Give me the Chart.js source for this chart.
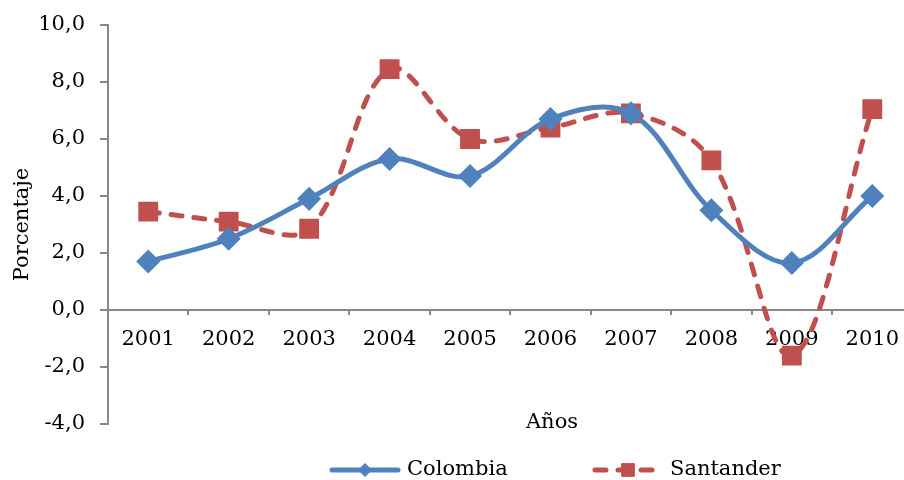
<!DOCTYPE html>
<html>
<head>
<meta charset="utf-8">
<script src="https://cdn.jsdelivr.net/npm/chart.js@4/dist/chart.umd.min.js"></script>
<style>
  html, body { margin: 0; padding: 0; background: #fff; overflow: hidden; }
  #wrap { width: 904px; height: 480px; overflow: hidden; position: relative; }
  #lienzo { width: 928px; height: 480px; position: absolute; left: 0; top: 0; }
</style>
</head>
<body>
<div id="wrap">
  <div id="lienzo"><canvas id="grafico"></canvas></div>
</div>
<script>
// datos (variación porcentual)
const anios = ['2001', '2002', '2003', '2004', '2005', '2006', '2007', '2008', '2009', '2010'];
const colombia = [1.7, 2.5, 3.9, 5.3, 4.7, 6.7, 6.9, 3.5, 1.65, 4.0];
const santander = [3.45, 3.1, 2.85, 8.45, 6.0, 6.4, 6.9, 5.25, -1.6, 7.05];
const yMin = -4, yMax = 10, yPaso = 2;

const fuente = 'DejaVu Serif';
const gris = '#888888';
const azul = '#4F81BD';
const rojo = '#C0504D';

// leyenda y título del eje X dibujados a mano (estilo Excel)
const leyendaX = [330, 593];
const leyendaRadio = [6.5, 9];
const extras = {
    id: 'extras',
    afterDraw(chart) {
        const ctx = chart.ctx;
        ctx.save();
        ctx.font = '21px "' + fuente + '"';
        ctx.fillStyle = '#000';
        ctx.textAlign = 'center';
        ctx.textBaseline = 'middle';
        ctx.fillText('Años', 552, 423);

        const y = 470;
        chart.data.datasets.forEach((ds, i) => {
            const x = leyendaX[i];
            ctx.save();
            ctx.strokeStyle = ds.borderColor;
            ctx.lineWidth = ds.borderWidth;
            ctx.lineCap = 'round';
            ctx.setLineDash(ds.borderDash || []);
            ctx.beginPath();
            ctx.moveTo(x + 2, y);
            ctx.lineTo(x + 68, y);
            ctx.stroke();
            ctx.restore();
            ctx.fillStyle = ds.pointBackgroundColor;
            ctx.strokeStyle = ds.pointBorderColor;
            ctx.lineWidth = 1;
            Chart.helpers.drawPoint(ctx, { pointStyle: ds.pointStyle, radius: leyendaRadio[i], borderWidth: 1 }, x + 35, y);
            ctx.fillStyle = '#000';
            ctx.textAlign = 'left';
            ctx.fillText(ds.label, x + 77, y);
        });
        ctx.restore();
    }
};

document.addEventListener('DOMContentLoaded', () => {
    const ctx = document.getElementById('grafico').getContext('2d');
    new Chart(ctx, {
        type: 'line',
        data: {
            labels: anios,
            datasets: [{
                label: 'Colombia',
                data: colombia,
                borderColor: azul,
                borderWidth: 5,
                pointStyle: 'rectRot',
                pointRadius: 8.5,
                pointBackgroundColor: azul,
                pointBorderColor: azul,
                tension: 0.35,
                fill: false
            }, {
                label: 'Santander',
                data: santander,
                borderColor: rojo,
                borderWidth: 5,
                borderDash: [11, 12],
                borderCapStyle: 'round',
                pointStyle: 'rect',
                pointRadius: 10.5,
                pointBackgroundColor: rojo,
                pointBorderColor: rojo,
                tension: 0.35,
                fill: false
            }]
        },
        options: {
            responsive: true,
            maintainAspectRatio: false,
            animation: false,
            clip: false,
            layout: { padding: { left: 6, top: 25, right: 0, bottom: 56 } },
            plugins: {
                legend: { display: false },
                tooltip: { enabled: false }
            },
            scales: {
                x: {
                    position: { y: 0 },
                    offset: true,
                    grid: { drawOnChartArea: false, offset: true, color: gris, lineWidth: 2, tickLength: 4 },
                    border: { color: gris, width: 2 },
                    ticks: { color: '#000', padding: 13, maxRotation: 0, font: { family: fuente, size: 21 } }
                },
                y: {
                    min: yMin,
                    max: yMax,
                    afterFit: s => { s.width = 102; s.paddingTop = 0; },
                    grid: { drawOnChartArea: false, color: gris, lineWidth: 2, tickLength: 8 },
                    border: { color: gris, width: 2 },
                    ticks: {
                        stepSize: yPaso,
                        padding: 15,
                        color: '#000',
                        font: { family: fuente, size: 21 },
                        callback: v => v.toFixed(1).replace('.', ',')
                    },
                    title: {
                        display: true,
                        text: 'Porcentaje',
                        color: '#000',
                        font: { family: fuente, size: 21 }
                    }
                }
            }
        },
        plugins: [extras]
    });
});
</script>
</body>
</html>
